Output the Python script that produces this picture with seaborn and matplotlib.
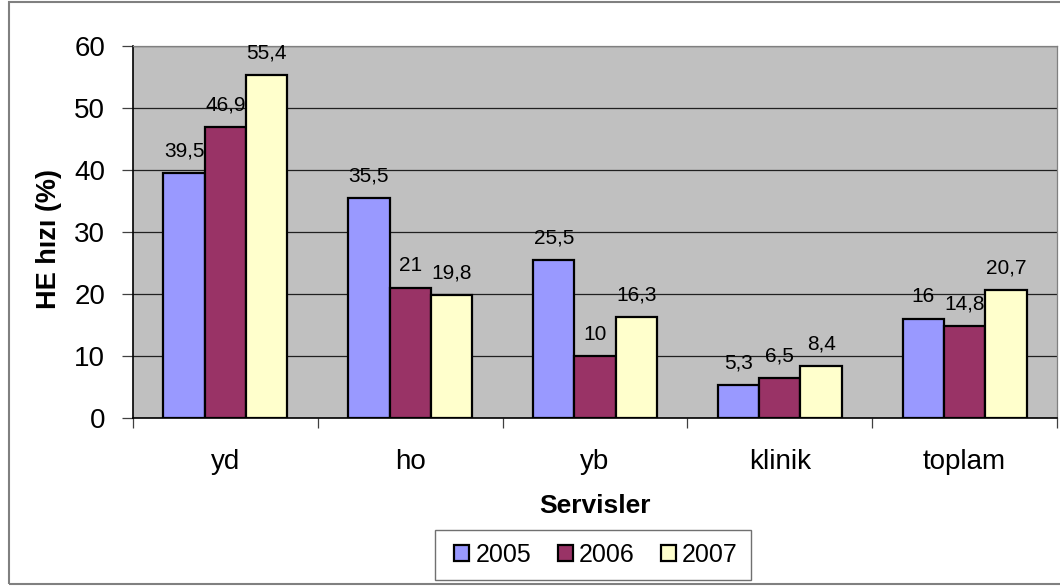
import matplotlib
matplotlib.use("Agg")
import matplotlib.pyplot as plt
import seaborn as sns
import pandas as pd
import numpy as np
from matplotlib.patches import Rectangle

# Hospital-acquired infection rate (%) by service and year
categories = ["yd", "ho", "yb", "klinik", "toplam"]
years = ["2005", "2006", "2007"]
rate_2005 = [39.5, 35.5, 25.5, 5.3, 16.0]
rate_2006 = [46.9, 21.0, 10.0, 6.5, 14.8]
rate_2007 = [55.4, 19.8, 16.3, 8.4, 20.7]
y_ticks = [0, 10, 20, 30, 40, 50, 60]

colors = ["#9999FF", "#993366", "#FFFFCC"]

df = pd.DataFrame({
    "Servis": categories * 3,
    "Yıl": [y for y in years for _ in categories],
    "Hız": rate_2005 + rate_2006 + rate_2007,
})

sns.set_theme(style="white")
plt.rcParams["font.family"] = ["Liberation Sans", "DejaVu Sans"]
plt.rcParams.update({"text.color": "black", "axes.labelcolor": "black",
                     "xtick.color": "black", "ytick.color": "black"})

W, H = 1060, 587
fig = plt.figure(figsize=(W / 100, H / 100), dpi=100)
ax = fig.add_axes([133 / W, 1 - 418 / H, (1057 - 133) / W, (418 - 46) / H])
ax.set_facecolor("#C0C0C0")

sns.barplot(data=df, x="Servis", y="Hız", hue="Yıl", order=categories,
            hue_order=years, palette=colors, width=0.67, gap=0,
            edgecolor="black", linewidth=1.6, saturation=1, ax=ax, zorder=3)

ax.set_ylim(0, 60)
ax.set_xlim(-0.5, len(categories) - 0.5)
ax.set_yticks(y_ticks)
ax.yaxis.grid(True, color="#202020", linewidth=0.9, zorder=0)
ax.set_axisbelow(True)

# value labels above each bar, using a decimal comma
for container in ax.containers:
    vals = container.datavalues
    labels = [("%g" % v).replace(".", ",") for v in vals]
    ax.bar_label(container, labels=labels, padding=9, fontsize=15, color="black")

# category boundary ticks on the x axis
ax.set_xticks(np.arange(-0.5, len(categories), 1.0), minor=True)
ax.tick_params(axis="x", which="major", length=0, pad=22, labelsize=20,
               labelcolor="black")
ax.tick_params(axis="x", which="minor", length=7, width=0.9, color="#404040",
               direction="out", bottom=True)
ax.tick_params(axis="y", which="major", length=8, width=0.9, color="#404040",
               direction="out", left=True, pad=12, labelsize=20, labelcolor="black")

for side in ["left", "bottom"]:
    ax.spines[side].set_color("black")
    ax.spines[side].set_linewidth(1.2)
for side in ["top", "right"]:
    ax.spines[side].set_color("#808080")
    ax.spines[side].set_linewidth(0.9)

ax.set_xlabel("Servisler", fontsize=19, fontweight="bold", labelpad=14, color="black")
ax.set_ylabel("HE hızı (%)", fontsize=19.5, fontweight="bold", labelpad=9, color="black")
ax.yaxis.label.set_y(0.481)

ax.legend_.remove()
handles, labels = ax.get_legend_handles_labels()
leg = fig.legend(handles, labels, loc="center", bbox_to_anchor=(596 / W, 1 - 555 / H),
                 ncol=3, frameon=False, fontsize=18, labelcolor="black",
                 handlelength=0.6, handleheight=0.6, handletextpad=0.25,
                 columnspacing=1.05, borderpad=0.0)

# legend box
fig.patches.append(Rectangle((435 / W, 1 - 580 / H), (751 - 435) / W, 50 / H,
                             transform=fig.transFigure, fill=False,
                             edgecolor="#707070", linewidth=1.0))

# outer chart border
fig.patches.append(Rectangle((9 / W, 1 - 584 / H), 1.2, 582 / H,
                             transform=fig.transFigure, fill=False,
                             edgecolor="#808080", linewidth=1.5))

fig.savefig("out.png", dpi=100)
